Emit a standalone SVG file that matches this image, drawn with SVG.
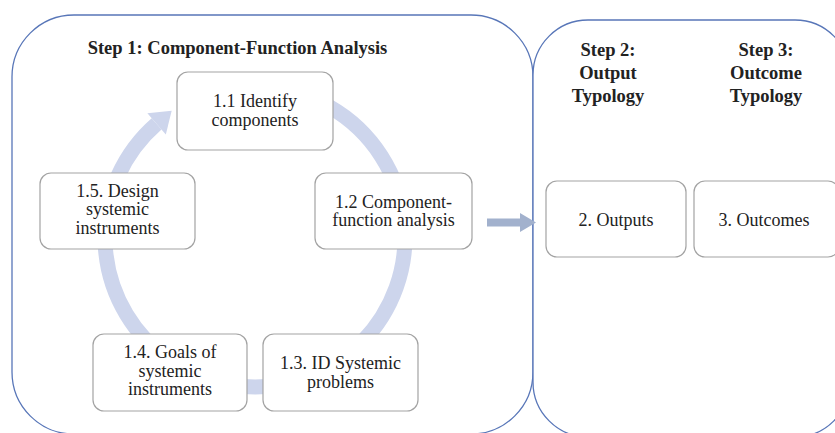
<svg xmlns="http://www.w3.org/2000/svg" width="835" height="433" viewBox="0 0 835 433">
<style>
.cont{fill:#ffffff;stroke:#5876b8;stroke-width:1.3}
.box{fill:#ffffff;stroke:#a3a3a3;stroke-width:1.2}
text{font-family:'Liberation Serif','DejaVu Serif',serif}
.t{font-size:18px;fill:#222;text-anchor:middle}
.h{font-size:18.5px;font-weight:bold;fill:#222;text-anchor:middle}
.ring{fill:none;stroke:#cdd5ec;stroke-width:15}
</style>
<rect width="835" height="433" fill="#ffffff"/>
<g id="step1-container">
<rect class="cont" x="12" y="15" width="521" height="419" rx="62" ry="62"/>
<text class="h" x="237.5" y="54" font-family="Liberation Serif, DejaVu Serif, serif" font-size="19">Step 1: Component-Function Analysis</text>
</g>
<g id="steps23-container">
<rect class="cont" x="533" y="20" width="317" height="417" rx="55" ry="55"/>
<text class="h" x="608" y="56" font-family="Liberation Serif, DejaVu Serif, serif">Step 2:</text>
<text class="h" x="608" y="79" font-family="Liberation Serif, DejaVu Serif, serif">Output</text>
<text class="h" x="608" y="102" font-family="Liberation Serif, DejaVu Serif, serif">Typology</text>
<text class="h" x="766" y="56" font-family="Liberation Serif, DejaVu Serif, serif">Step 3:</text>
<text class="h" x="766" y="79" font-family="Liberation Serif, DejaVu Serif, serif">Outcome</text>
<text class="h" x="766" y="102" font-family="Liberation Serif, DejaVu Serif, serif">Typology</text>
</g>
<g id="connectors">
<path class="ring" d="M268.1 87.6 A150 150 0 1 1 156.6 123.8"/>
<polygon points="147.4,113.2 171.7,110.7 165.8,134.4" fill="#cdd5ec"/>
<polygon points="487,218.5 520,218.5 520,213 536,222.5 520,232 520,226.5 487,226.5" fill="#a2b1cd"/>
</g>
<g id="n11" font-family="Liberation Serif, DejaVu Serif, serif">
<rect class="box" x="177" y="72" width="156" height="78" rx="11"/>
<text class="t" x="255" y="107">1.1 Identify</text>
<text class="t" x="255" y="125.5">components</text>
</g>
<g id="n12" font-family="Liberation Serif, DejaVu Serif, serif">
<rect class="box" x="315" y="173" width="157" height="76" rx="11"/>
<text class="t" x="393.5" y="207.5">1.2 Component-</text>
<text class="t" x="393.5" y="226">function analysis</text>
</g>
<g id="n13" font-family="Liberation Serif, DejaVu Serif, serif">
<rect class="box" x="263" y="334" width="155" height="77" rx="11"/>
<text class="t" x="340.5" y="369">1.3. ID Systemic</text>
<text class="t" x="340.5" y="387.5">problems</text>
</g>
<g id="n14" font-family="Liberation Serif, DejaVu Serif, serif">
<rect class="box" x="93" y="334" width="154" height="77" rx="11"/>
<text class="t" x="170" y="358">1.4. Goals of</text>
<text class="t" x="170" y="376.5">systemic</text>
<text class="t" x="170" y="395">instruments</text>
</g>
<g id="n15" font-family="Liberation Serif, DejaVu Serif, serif">
<rect class="box" x="40" y="173" width="155" height="76" rx="11"/>
<text class="t" x="117.5" y="196.5">1.5. Design</text>
<text class="t" x="117.5" y="215">systemic</text>
<text class="t" x="117.5" y="233.5">instruments</text>
</g>
<g id="n2" font-family="Liberation Serif, DejaVu Serif, serif">
<rect class="box" x="546" y="181" width="140" height="76" rx="11"/>
<text class="t" x="616" y="226">2. Outputs</text>
</g>
<g id="n3" font-family="Liberation Serif, DejaVu Serif, serif">
<rect class="box" x="694" y="181" width="145" height="76" rx="11"/>
<text class="t" x="764" y="226">3. Outcomes</text>
</g>
</svg>
